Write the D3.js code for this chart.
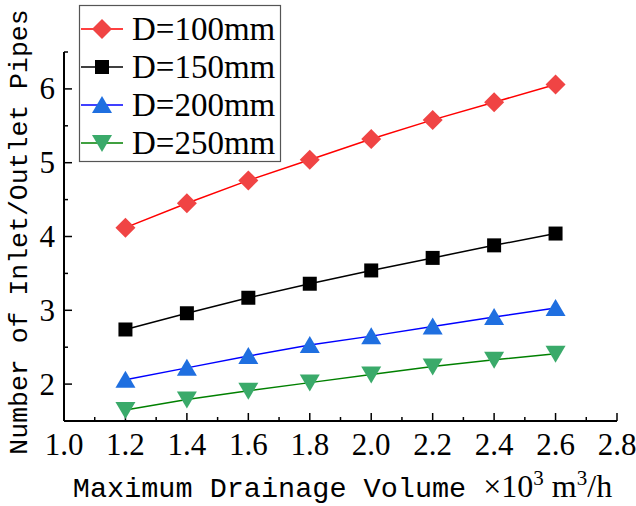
<!DOCTYPE html>
<html><head><meta charset="utf-8">
<script src="https://cdn.jsdelivr.net/npm/d3@7"></script>
<style>html,body{margin:0;padding:0;background:#fff;}svg{display:block;}
.serif{font-family:"Liberation Serif","Times New Roman",Times,serif;}
.mono{font-family:"Liberation Mono","Courier New",monospace;}
</style>
</head><body>
<script>
const xValues = [1.2, 1.4, 1.6, 1.8, 2.0, 2.2, 2.4, 2.6];
const d100 = [4.12, 4.45, 4.76, 5.04, 5.32, 5.58, 5.82, 6.06];
const d150 = [2.74, 2.96, 3.17, 3.36, 3.54, 3.71, 3.88, 4.04];
const d200 = [2.06, 2.22, 2.38, 2.53, 2.65, 2.78, 2.91, 3.03];
const d250 = [1.65, 1.79, 1.91, 2.02, 2.13, 2.24, 2.33, 2.41];
const seriesNames = ["D=100mm", "D=150mm", "D=200mm", "D=250mm"];
const xTicks = [1.0, 1.2, 1.4, 1.6, 1.8, 2.0, 2.2, 2.4, 2.6, 2.8];
const yTicks = [2, 3, 4, 5, 6];

const W = 636, H = 506;
const m = {left: 64, right: 19, top: 52, bottom: 85};
const svg = d3.select("body").append("svg").attr("width", W).attr("height", H);

const x = d3.scaleLinear().domain([1.0, 2.8]).range([m.left, W - m.right]);
const y = d3.scaleLinear().domain([1.5, 6.5]).range([H - m.bottom, m.top]);

const styles = [
  {line: "#ff0000", fill: "#f04444", sym: "diamond"},
  {line: "#000000", fill: "#000000", sym: "square"},
  {line: "#0000ff", fill: "#1f6fe0", sym: "up"},
  {line: "#008000", fill: "#3aaa6a", sym: "down"}
];
const data = [d100, d150, d200, d250];

function marker(g, sym, fill) {
  let p;
  if (sym === "diamond") p = "M0,-10L10,0L0,10L-10,0Z";
  else if (sym === "square") p = "M-7,-7H7V7H-7Z";
  else if (sym === "up") p = "M0,-9L10,8L-10,8Z";
  else p = "M0,9L10,-8L-10,-8Z";
  g.append("path").attr("d", p).attr("fill", fill);
}

// axes
const xMinor = d3.range(11, 28, 2).map(v => v / 10);
const yMinor = [2.5, 3.5, 4.5, 5.5, 6.5];
const ax = svg.append("g");
xTicks.forEach(v => ax.append("line").attr("x1", x(v)).attr("x2", x(v)).attr("y1", y(1.5)).attr("y2", y(1.5) - 8).attr("stroke", "#000").attr("stroke-width", 1.5));
xMinor.forEach(v => ax.append("line").attr("x1", x(v)).attr("x2", x(v)).attr("y1", y(1.5)).attr("y2", y(1.5) - 4).attr("stroke", "#000").attr("stroke-width", 1.5));
yTicks.forEach(v => ax.append("line").attr("x1", x(1.0)).attr("x2", x(1.0) + 8).attr("y1", y(v)).attr("y2", y(v)).attr("stroke", "#000").attr("stroke-width", 1.5));
yMinor.forEach(v => ax.append("line").attr("x1", x(1.0)).attr("x2", x(1.0) + 4).attr("y1", y(v)).attr("y2", y(v)).attr("stroke", "#000").attr("stroke-width", 1.5));
ax.append("line").attr("x1", x(1.0)).attr("x2", x(2.8)).attr("y1", y(1.5)).attr("y2", y(1.5)).attr("stroke", "#000").attr("stroke-width", 2);
ax.append("line").attr("x1", x(1.0)).attr("x2", x(1.0)).attr("y1", y(1.5)).attr("y2", y(6.5)).attr("stroke", "#000").attr("stroke-width", 2);

xTicks.forEach(v => svg.append("text").attr("class", "serif").attr("x", x(v)).attr("y", y(1.5) + 34)
  .attr("text-anchor", "middle").style("font-size", "31px").text(v.toFixed(1)));
yTicks.forEach(v => svg.append("text").attr("class", "serif").attr("x", x(1.0) - 9).attr("y", y(v) + 10.5)
  .attr("text-anchor", "end").style("font-size", "31px").text(v));

// series
const line = d3.line().x((d, i) => x(xValues[i])).y(d => y(d));
data.forEach((s, k) => {
  svg.append("path").attr("d", line(s)).attr("fill", "none").attr("stroke", styles[k].line).attr("stroke-width", 1.5);
  s.forEach((v, i) => {
    const g = svg.append("g").attr("transform", `translate(${x(xValues[i])},${y(v)})`);
    marker(g, styles[k].sym, styles[k].fill);
  });
});

// legend
const lg = svg.append("g");
lg.append("rect").attr("x", 79.5).attr("y", 5.5).attr("width", 201).attr("height", 156)
  .attr("fill", "#fff").attr("stroke", "#555").attr("stroke-width", 1.2);
seriesNames.forEach((n, k) => {
  const cy = 29 + k * 38;
  lg.append("line").attr("x1", 81).attr("x2", 123).attr("y1", cy).attr("y2", cy).attr("stroke", styles[k].line).attr("stroke-width", 1.5);
  const g = lg.append("g").attr("transform", `translate(102,${cy})`);
  marker(g, styles[k].sym, styles[k].fill);
  lg.append("text").attr("class", "serif").attr("x", 132).attr("y", cy + 11).style("font-size", "33px").text(n);
});

// axis titles
const xt = svg.append("text").attr("x", (x(1.0) + x(2.8)) / 2 + 2).attr("y", 497).attr("text-anchor", "middle");
xt.append("tspan").attr("class", "mono").style("font-size", "28.5px").text("Maximum Drainage Volume ");
xt.append("tspan").attr("class", "serif").style("font-size", "32px").text("×10");
xt.append("tspan").attr("class", "serif").style("font-size", "21px").attr("dy", -12).text("3");
xt.append("tspan").attr("class", "serif").style("font-size", "32px").attr("dy", 12).text(" m");
xt.append("tspan").attr("class", "serif").style("font-size", "21px").attr("dy", -12).text("3");
xt.append("tspan").attr("class", "serif").style("font-size", "32px").attr("dy", 12).text("/h");

svg.append("text").attr("class", "mono").attr("transform", "translate(27,232) rotate(-90)").attr("text-anchor", "middle")
  .style("font-size", "26.5px").text("Number of Inlet/Outlet Pipes");
</script>
</body></html>
